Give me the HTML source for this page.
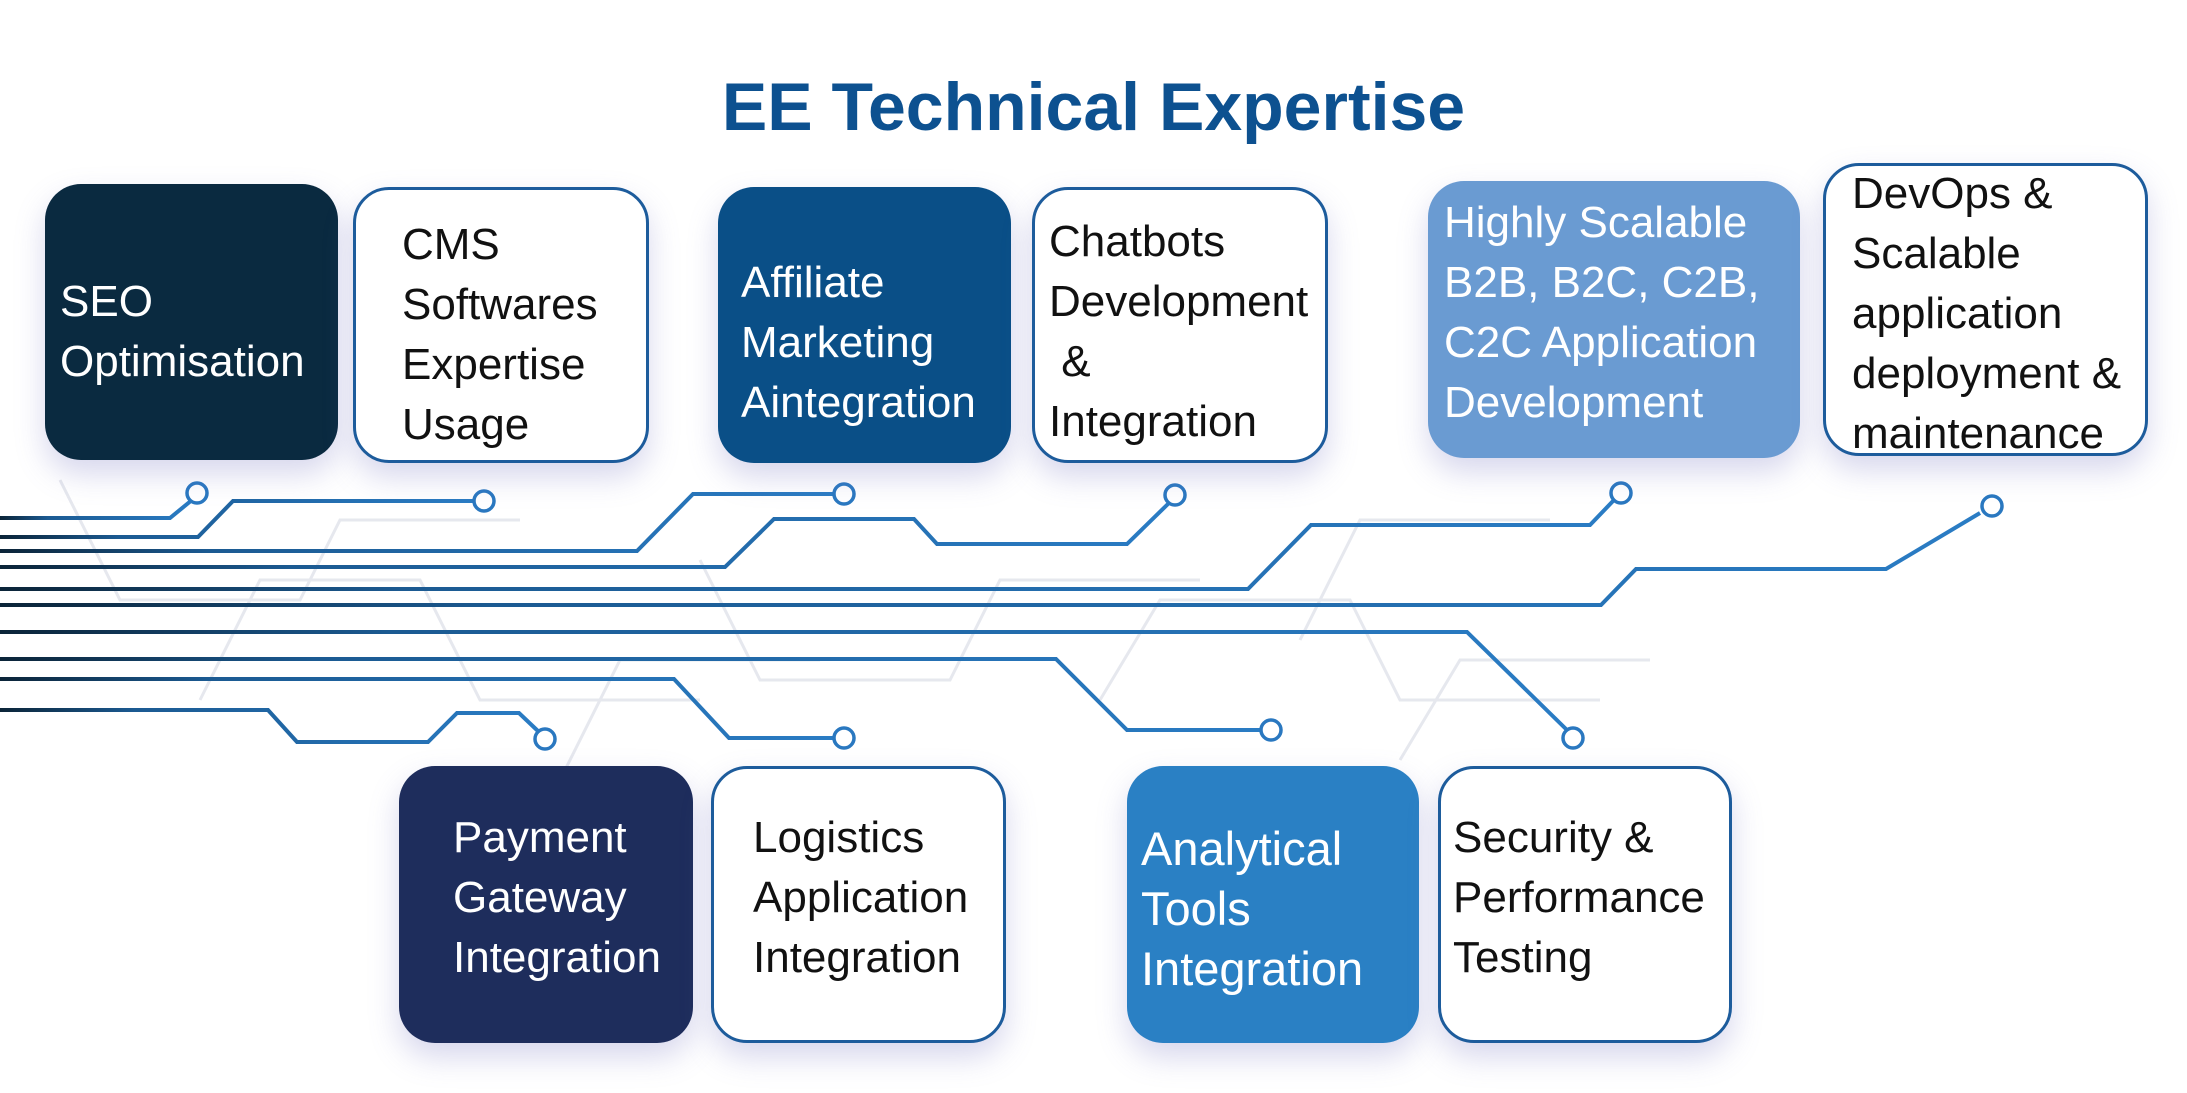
<!DOCTYPE html>
<html><head><meta charset="utf-8"><style>
*{margin:0;padding:0;box-sizing:border-box}
body{width:2187px;height:1093px;background:#fff;position:relative;overflow:hidden;font-family:"Liberation Sans",sans-serif}
.t{position:absolute;left:0;top:68px;width:2187px;text-align:center;font-size:68px;font-weight:bold;color:#0d5190;letter-spacing:0px}
.b{position:absolute;border-radius:36px;box-shadow:0 14px 30px rgba(110,110,190,0.28)}
.w{background:#fff;border:3px solid #1d5c9c}
.x{position:absolute;font-size:44px;line-height:60px;white-space:nowrap;color:#111}
.wt{color:#fff}
svg{position:absolute;left:0;top:0}
</style></head><body>
<svg width="2187" height="1093">
<defs><linearGradient id="g" x1="0" x2="1" y1="0" y2="0"><stop offset="0" stop-color="#0b2438"/><stop offset="0.25" stop-color="#1b5a92"/><stop offset="1" stop-color="#2a7cc4"/></linearGradient></defs>
<g stroke="#e6e8ee" stroke-width="3" fill="none">
<path d="M60 480 L120 600 L300 600 L340 520 L520 520"/><path d="M200 700 L260 580 L420 580 L480 700 L700 700"/>
<path d="M700 560 L760 680 L950 680 L1000 580 L1200 580"/><path d="M1100 700 L1160 600 L1350 600 L1400 700 L1600 700"/>
<path d="M560 780 L620 660 L820 660"/><path d="M1300 640 L1360 520 L1550 520"/><path d="M1400 760 L1460 660 L1650 660"/>
</g>
<g stroke="url(#g)" stroke-width="4" fill="none">
<path d="M0 518 L170 518 L192 500"/>
<path d="M0 537 L198 537 L233 501 L474 501"/>
<path d="M0 551 L637 551 L693 494 L834 494"/>
<path d="M0 567 L725 567 L774 519 L914 519 L937 544 L1127 544 L1170 502"/>
<path d="M0 589 L1248 589 L1311 525 L1590 525 L1614 500"/>
<path d="M0 605 L1601 605 L1636 569 L1886 569 L1980 513"/>
<path d="M0 632 L1467 632 L1568 731"/>
<path d="M0 659 L1056 659 L1127 730 L1260 730"/>
<path d="M0 679 L674 679 L729 738 L834 738"/>
<path d="M0 710 L268 710 L297 742 L428 742 L457 713 L519 713 L539 732"/>
</g>
<g stroke="#2a78c0" stroke-width="3.5" fill="#fff">
<circle cx="197" cy="493" r="10"/><circle cx="484" cy="501" r="10"/><circle cx="844" cy="494" r="10"/>
<circle cx="1175" cy="495" r="10"/><circle cx="1621" cy="493" r="10"/><circle cx="1992" cy="506" r="10"/>
<circle cx="1573" cy="738" r="10"/><circle cx="1271" cy="730" r="10"/><circle cx="844" cy="738" r="10"/><circle cx="545" cy="739" r="10"/>
</g>
</svg>
<div class="t">EE Technical Expertise</div>

<div class="b" style="left:45px;top:184px;width:293px;height:276px;background:#0a2a40"></div>
<div class="x wt" style="left:60px;top:272px">SEO<br>Optimisation</div>

<div class="b w" style="left:353px;top:187px;width:296px;height:276px"></div>
<div class="x" style="left:402px;top:215px">CMS<br>Softwares<br>Expertise<br>Usage</div>

<div class="b" style="left:718px;top:187px;width:293px;height:276px;background:#0a4f87"></div>
<div class="x wt" style="left:741px;top:253px">Affiliate<br>Marketing<br>Aintegration</div>

<div class="b w" style="left:1032px;top:187px;width:296px;height:276px"></div>
<div class="x" style="left:1049px;top:212px">Chatbots<br>Development<br>&nbsp;&amp;<br>Integration</div>

<div class="b" style="left:1428px;top:181px;width:372px;height:277px;background:#6a9bd2"></div>
<div class="x wt" style="left:1444px;top:193px">Highly Scalable<br>B2B, B2C, C2B,<br>C2C Application<br>Development</div>

<div class="b w" style="left:1823px;top:163px;width:325px;height:293px"></div>
<div class="x" style="left:1852px;top:164px">DevOps &amp;<br>Scalable<br>application<br>deployment &amp;<br>maintenance</div>

<div class="b" style="left:399px;top:766px;width:294px;height:277px;background:#1e2d5c"></div>
<div class="x wt" style="left:453px;top:808px">Payment<br>Gateway<br>Integration</div>

<div class="b w" style="left:711px;top:766px;width:295px;height:277px"></div>
<div class="x" style="left:753px;top:808px">Logistics<br>Application<br>Integration</div>

<div class="b" style="left:1127px;top:766px;width:292px;height:277px;background:#2a80c4"></div>
<div class="x wt" style="left:1141px;top:819px;font-size:47px">Analytical<br>Tools<br>Integration</div>

<div class="b w" style="left:1438px;top:766px;width:294px;height:277px"></div>
<div class="x" style="left:1453px;top:808px">Security &amp;<br>Performance<br>Testing</div>
</body></html>
